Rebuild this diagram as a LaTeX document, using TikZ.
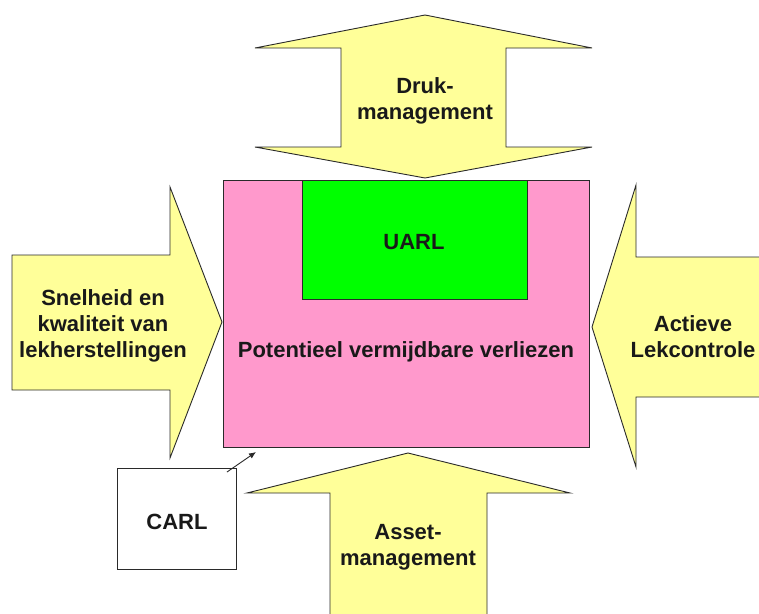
\documentclass[tikz,border=0pt]{standalone}
\usepackage{fontspec}
\setmainfont{Liberation Sans}
\usetikzlibrary{arrows.meta}
\definecolor{arrowyellow}{HTML}{FFFF99}
\definecolor{losspink}{HTML}{FF99CC}
\definecolor{uarlgreen}{HTML}{00FF00}
\definecolor{edge}{HTML}{2A2A2A}
\tikzset{
  bigarrow/.style={draw=edge, line width=0.9pt, fill=arrowyellow, line join=miter},
  box/.style={draw=edge, line width=0.9pt, inner sep=0pt, anchor=north west},
  lbl/.style={font=\fontsize{22}{26}\selectfont\bfseries, text=black!90, align=center, inner sep=0pt},
}
\begin{document}
\begin{tikzpicture}[x=1pt, y=-1pt]
\useasboundingbox (0,0) rectangle (759,613);
\clip (0,0) rectangle (759,613);
\fill[white] (0,0) rectangle (759,613);
% top double arrow
\draw[bigarrow] (425,15) -- (592,48) -- (506,48) -- (506,147) -- (592,147) -- (425,178)
  -- (255,147) -- (341,147) -- (341,48) -- (255,48) -- cycle;
% left arrow
\draw[bigarrow] (12,255) -- (170,255) -- (170,187) -- (222,322) -- (170,458) -- (170,390) -- (12,390) -- cycle;
% right arrow
\draw[bigarrow] (780,257) -- (636,257) -- (636,185) -- (592,327) -- (636,467) -- (636,397) -- (780,397) -- cycle;
% bottom arrow
\draw[bigarrow] (408,453) -- (570,493) -- (487,493) -- (487,630) -- (330,630) -- (330,493) -- (247,493) -- cycle;
% boxes
\node[box, fill=losspink, minimum width=366pt, minimum height=267pt] (loss) at (223,180) {};
\node[box, fill=uarlgreen, minimum width=225pt, minimum height=119pt] (uarl) at (302,180) {};
\node[box, fill=white, minimum width=119pt, minimum height=101pt] (carl) at (117,468) {};
% labels
\node[lbl] (uarltext) at (414,242) {UARL};
\node[lbl] (losstext) at (406,352) {Potentieel vermijdbare verliezen};
\node[lbl] (carltext) at (177,522) {CARL};
\node[lbl] (druk) at (425,101) {Druk-\\management};
\node[lbl] (snel) at (103,326) {Snelheid en\\kwaliteit van\\lekherstellingen};
\node[lbl] (actief) at (693,337) {Actieve\\Lekcontrole};
\node[lbl] (asset) at (408,547) {Asset-\\management};
% CARL pointer
\coordinate (cs) at (227,472);
\coordinate (ce) at (256,452);
\draw[edge, line width=0.9pt, -{Latex[length=7pt,width=6pt]}] (cs) -- (ce);
\end{tikzpicture}
\end{document}
